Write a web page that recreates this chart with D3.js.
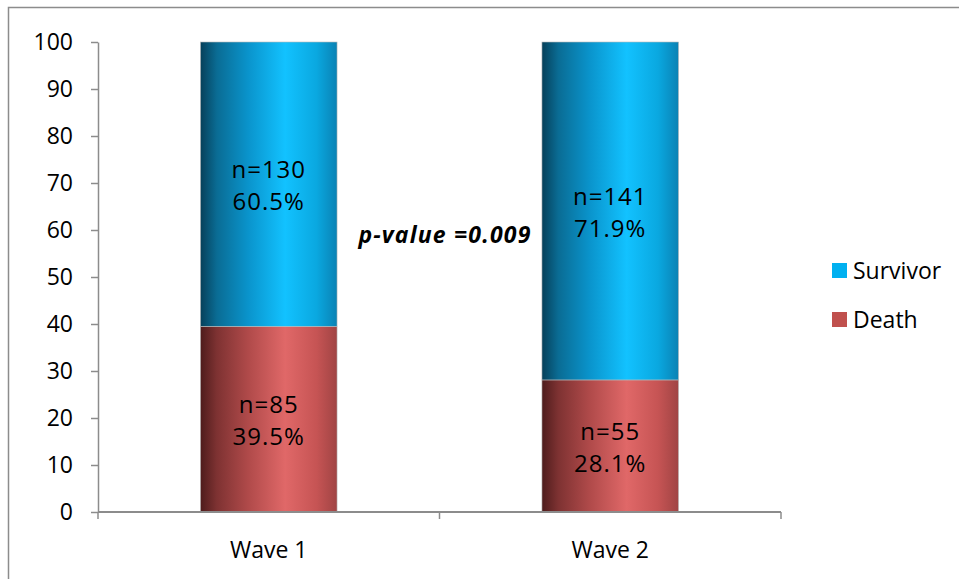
<!DOCTYPE html>
<html>
<head>
<meta charset="utf-8">
<script src="https://d3js.org/d3.v7.min.js"></script>
<style>
  body { margin: 0; background: #fff; }
  svg text { font-family: "Open Sans", Lato, sans-serif; fill: #000; }
</style>
</head>
<body>
<svg width="959" height="579"></svg>
<script>
var waves = ["Wave 1", "Wave 2"];
var deathPct = [39.5, 28.1];
var survivorPct = [60.5, 71.9];
var deathN = [85, 55];
var survivorN = [130, 141];
var yTicks = [0, 10, 20, 30, 40, 50, 60, 70, 80, 90, 100];
var pValueText = "p-value =0.009";

var svg = d3.select("svg");

// outer frame (only top & left visible in picture)
svg.append("rect")
    .attr("x", 8.5).attr("y", 7.5)
    .attr("width", 1000).attr("height", 1000)
    .attr("fill", "none").attr("stroke", "#8c8c8c").attr("stroke-width", 1.5);

var defs = svg.append("defs");
function grad(id, stops) {
    var g = defs.append("linearGradient").attr("id", id)
        .attr("x1", "0%").attr("x2", "100%").attr("y1", "0%").attr("y2", "0%");
    stops.forEach(function (s) {
        g.append("stop").attr("offset", s[0]).attr("stop-color", s[1]);
    });
}
grad("gSurv", [["0%", "#06405a"], ["12%", "#0a6c94"], ["35%", "#0a94cc"], ["62%", "#12c2ff"], ["85%", "#0aa8e0"], ["100%", "#0a82b4"]]);
grad("gDeath", [["0%", "#4e1c1c"], ["12%", "#7e3232"], ["35%", "#b04a4a"], ["62%", "#e06868"], ["85%", "#c65454"], ["100%", "#a04444"]]);

var plotL = 98, plotR = 781, plotT = 42, plotB = 512;

var x = d3.scaleBand().domain(waves).range([plotL, plotR]).paddingInner(0.6).paddingOuter(0.3);
var y = d3.scaleLinear().domain([0, 100]).range([plotB, plotT]);

var series = [
    { key: "Death", pct: deathPct, n: deathN, fill: "url(#gDeath)", legend: "#c0504d" },
    { key: "Survivor", pct: survivorPct, n: survivorN, fill: "url(#gSurv)", legend: "#00b0f0" }
];

var fs = 23;

var bars = svg.append("g");
waves.forEach(function (w, i) {
    var base = 0;
    series.forEach(function (s) {
        var v = s.pct[i];
        var y0 = y(base), y1 = y(base + v);
        bars.append("rect")
            .attr("x", x(w)).attr("y", y1)
            .attr("width", x.bandwidth()).attr("height", y0 - y1)
            .attr("fill", s.fill)
            .attr("stroke", "#b9b9b9").attr("stroke-width", 0.6);
        var cy = (y0 + y1) / 2;
        var cx = x(w) + x.bandwidth() / 2;
        bars.append("text").attr("x", cx).attr("y", cy - 6)
            .attr("text-anchor", "middle").attr("font-size", 24).attr("letter-spacing", 1)
            .text("n=" + s.n[i]);
        bars.append("text").attr("x", cx).attr("y", cy + 26)
            .attr("text-anchor", "middle").attr("font-size", 24).attr("letter-spacing", 1)
            .text(s.pct[i].toFixed(1) + "%");
        base += v;
    });
});

// y axis
var yAxis = svg.append("g").attr("transform", "translate(" + plotL + ",0)")
    .call(d3.axisLeft(y).tickValues(yTicks).tickSize(7).tickSizeOuter(0).tickPadding(18));
yAxis.selectAll("line, path").attr("stroke", "#8c8c8c").attr("stroke-width", 1.5);
yAxis.selectAll("text").attr("font-size", fs).style("font-family", "'Open Sans', sans-serif");

// x axis
var xAxisG = svg.append("g").attr("transform", "translate(0," + plotB + ")");
xAxisG.append("line").attr("x1", plotL).attr("x2", plotR).attr("y1", 0).attr("y2", 0)
    .attr("stroke", "#8c8c8c").attr("stroke-width", 2);
var xt = [plotL, (plotL + plotR) / 2, plotR];
xAxisG.selectAll(".xt").data(xt).enter().append("line")
    .attr("x1", function (d) { return d; }).attr("x2", function (d) { return d; })
    .attr("y1", 0).attr("y2", 7).attr("stroke", "#8c8c8c").attr("stroke-width", 1.5);
xAxisG.selectAll(".xl").data(waves).enter().append("text")
    .attr("x", function (d) { return x(d) + x.bandwidth() / 2; })
    .attr("y", 46).attr("text-anchor", "middle").attr("font-size", fs)
    .text(function (d) { return d; });

// p-value
svg.append("text").attr("x", 445).attr("y", 243).attr("text-anchor", "middle")
    .attr("font-size", 23).attr("font-weight", "bold").attr("font-style", "italic")
    .attr("letter-spacing", 1.2)
    .text(pValueText);

// legend
var legendItems = [series[1], series[0]];
var lg = svg.append("g").attr("transform", "translate(832,263)");
legendItems.forEach(function (s, i) {
    lg.append("rect").attr("x", 0).attr("y", i * 49).attr("width", 15).attr("height", 15).attr("fill", s.legend);
    lg.append("text").attr("x", 21).attr("y", i * 49 + 16).attr("font-size", fs).text(s.key);
});
</script>
</body>
</html>
